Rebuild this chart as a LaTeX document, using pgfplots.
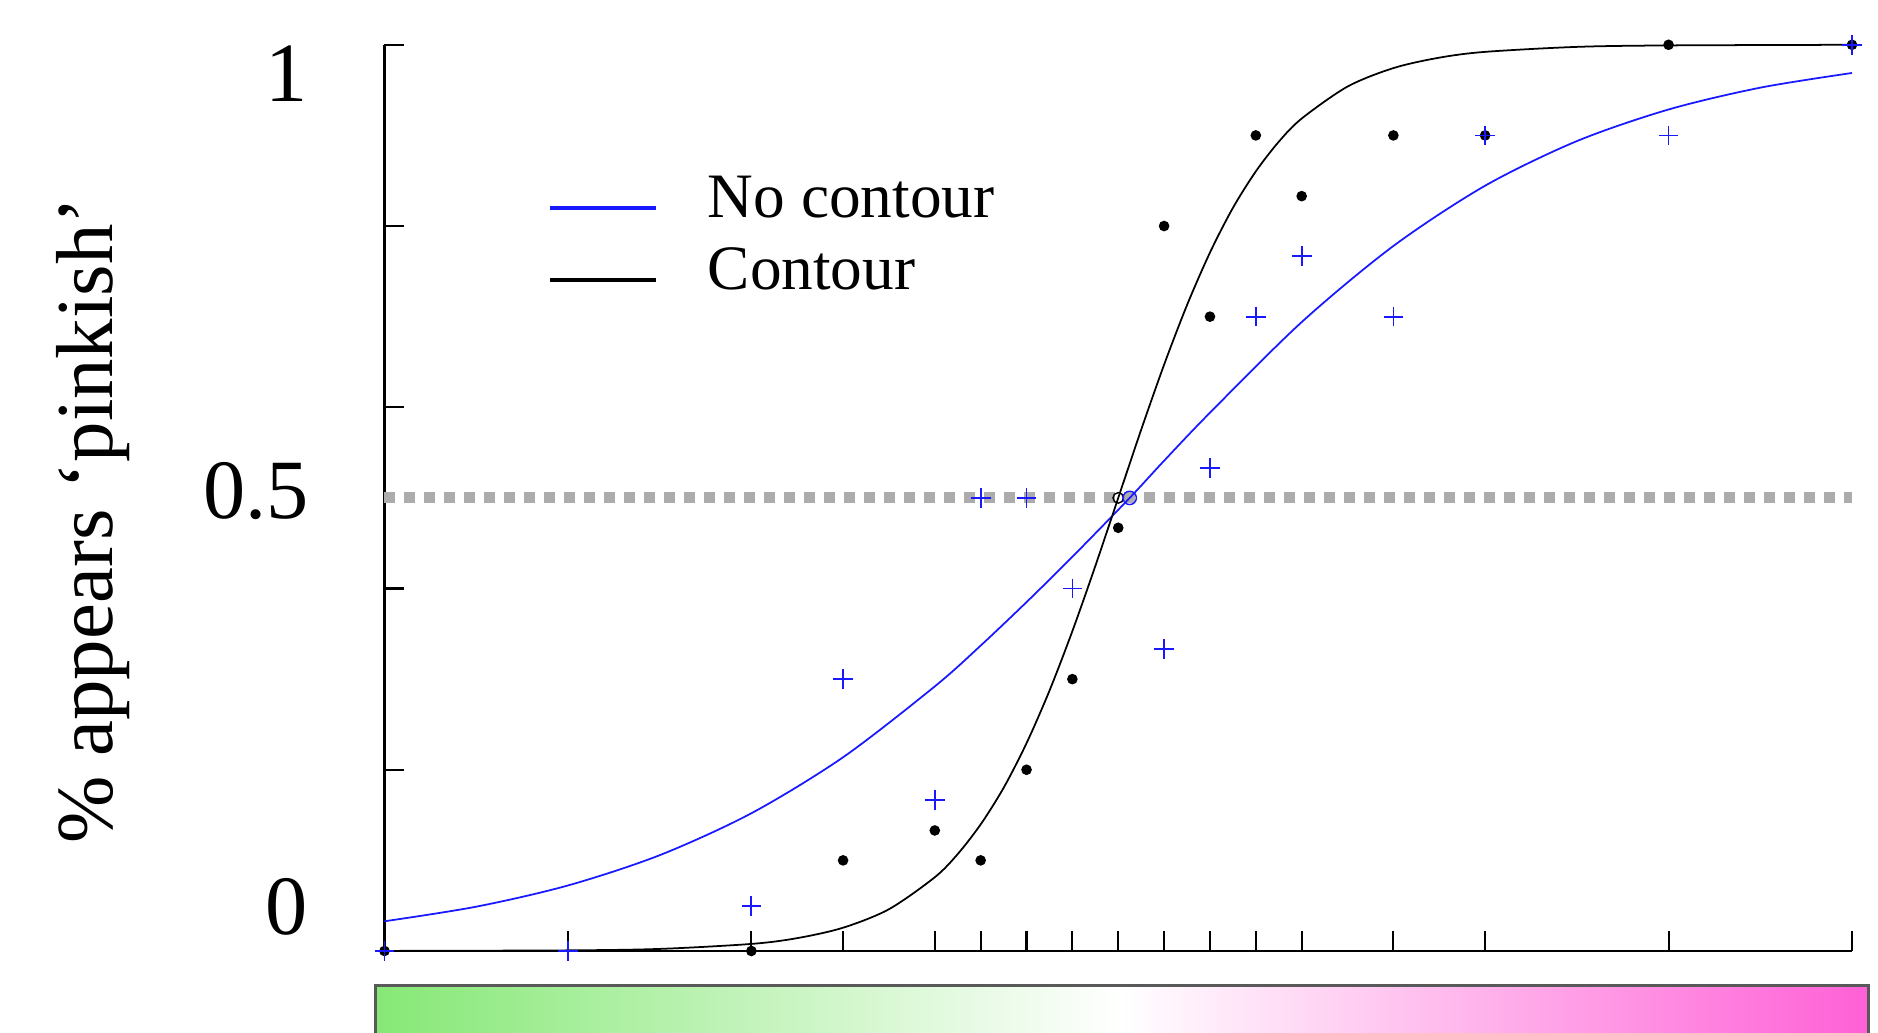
\documentclass[border=0pt]{standalone}
\usepackage{fontspec}
\setmainfont{Liberation Serif}
\usepackage{pgfplots}
\pgfplotsset{compat=1.18}
\definecolor{cgreen}{RGB}{134,232,118}
\definecolor{cpink}{RGB}{255,96,214}
\definecolor{cblue}{RGB}{25,25,255}
\definecolor{cgray}{RGB}{172,172,172}
\begin{document}
\begin{tikzpicture}
\begin{axis}[
  at={(0,0)}, anchor=south west,
  scale only axis, width=14.675cm, height=9.062cm,
  xmin=0, xmax=32, ymin=0, ymax=1,
  axis lines=left, axis line style={line width=0.7pt, -},
  xtick={0,4,8,10,12,13,14,15,16,17,18,19,20,22,24,28,32},
  ytick={0,0.2,0.4,0.6,0.8,1},
  xticklabels={}, yticklabels={},
  tick align=inside,
  major tick length=2mm,
  tick style={line width=0.6pt, black},
  clip=false,
  legend style={at={(axis cs:3.33,0.875)}, anchor=north west, draw=none, fill=none,
    font=\fontsize{18}{21}\selectfont, row sep=0.05cm,
    nodes={inner sep=0.1cm},
    /tikz/every odd column/.append style={column sep=0.40cm}},
  legend cell align=left,
  legend image code/.code={\draw[#1, line width=0.35mm] (0cm,-0.09cm) -- (1.06cm,-0.09cm);},
]
% 50% reference line
\addplot[cgray, line width=1.1mm, dash pattern=on 1.1mm off 0.9mm, forget plot]
  coordinates {(0,0.5) (32,0.5)};
% fitted curves
\addplot[cblue, line width=0.5pt, smooth] coordinates {
 (0,0.0328) (2,0.0489) (4,0.0723) (6,0.1057) (8,0.152) (10,0.2138) (12,0.292)
 (13,0.337) (14,0.385) (15,0.435) (16.25,0.5) (17,0.541) (18,0.594) (20,0.694)
 (22,0.778) (24,0.8445) (26,0.8937) (28,0.9286) (30,0.9527) (32,0.9689)};
\addlegendentry{No contour}
\addplot[black, line width=0.5pt, smooth] coordinates {
 (0,0.0001) (4,0.0007) (6,0.0023) (8,0.0078) (9,0.0142) (10,0.0257) (11,0.0461)
 (12,0.0814) (12.5,0.107) (13,0.1397) (13.5,0.180) (14,0.2293) (14.5,0.2872)
 (15,0.353) (15.5,0.4248) (16,0.5) (16.5,0.5752) (17,0.647) (17.5,0.7128)
 (18,0.7707) (18.5,0.820) (19,0.8603) (19.5,0.893) (20,0.9186) (21,0.9539)
 (22,0.9743) (23,0.9858) (24,0.9922) (26,0.9977) (28,0.9993) (32,1.0)};
\addlegendentry{Contour}
% data: contour (black dots)
\addplot[only marks, mark=*, black, mark size=1.3pt, forget plot] coordinates {
 (0,0) (8,0) (10,0.1) (12,0.133) (13,0.1) (14,0.2) (15,0.3) (16,0.467) (17,0.8)
 (18,0.7) (19,0.9) (20,0.833) (22,0.9) (24,0.9) (28,1) (32,1)};
% data: no contour (blue crosses)
\addplot[only marks, mark=+, cblue, mark size=2.8pt, line width=0.5pt, forget plot] coordinates {
 (0,0) (4,0) (8,0.05) (10,0.30) (12,0.167) (13,0.5) (14,0.5) (15,0.4) (17,0.333)
 (18,0.533) (19,0.7) (20,0.767) (22,0.7) (24,0.9) (28,0.9) (32,1)};
% 50% points
\addplot[only marks, mark=o, black, mark size=1.5pt, line width=0.4pt, forget plot]
  coordinates {(16,0.5)};
\addplot[only marks, mark=o, cblue, mark size=1.9pt, line width=0.4pt, forget plot]
  coordinates {(16.25,0.5)};
% tick labels and axis label
\node[font=\fontsize{24}{27}\selectfont] at (axis cs:-2.126,0.968) {1};
\node[font=\fontsize{24}{27}\selectfont] at (axis cs:-2.8,0.508) {0.5};
\node[font=\fontsize{24}{27}\selectfont] at (axis cs:-2.126,0.049) {0};
\node[rotate=90, font=\fontsize{23}{27}\selectfont] at (axis cs:-6.35,0.475) {\% appears ‘pinkish’};
% colour bar
\shade[left color=cgreen, right color=cpink, middle color=white]
  (axis cs:-0.207,-0.0386) rectangle (axis cs:32.35,-0.0945);
\draw[black!65, line width=0.3mm]
  (axis cs:-0.207,-0.0386) rectangle (axis cs:32.35,-0.0945);
\end{axis}
\pgfresetboundingbox
\useasboundingbox (-3.845,-0.82) rectangle (14.935,9.51);
\end{tikzpicture}
\end{document}
